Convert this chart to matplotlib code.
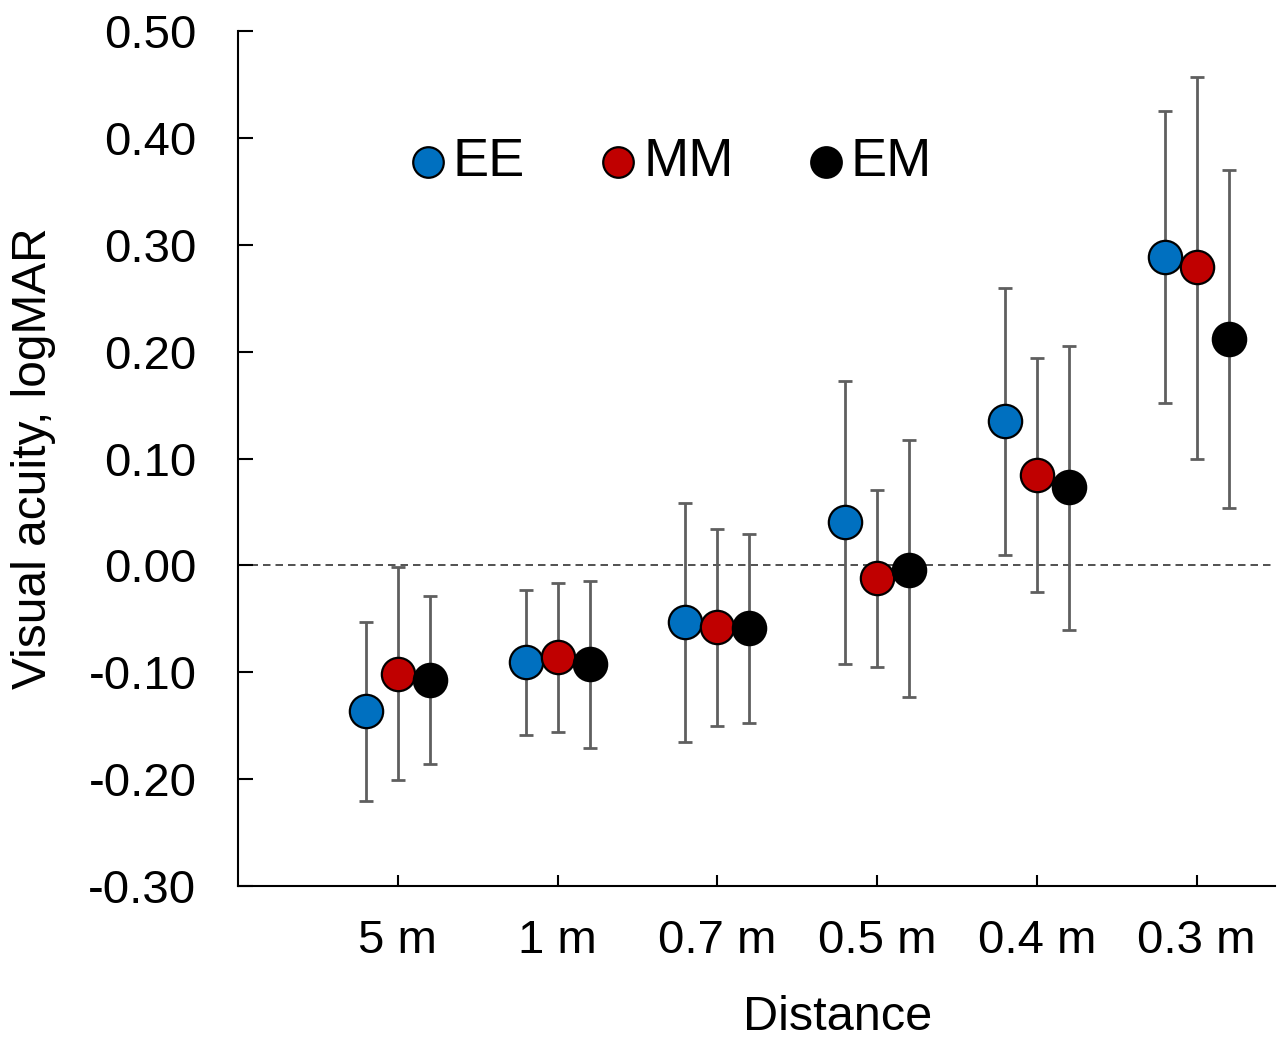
import matplotlib.pyplot as plt
import numpy as np

plt.rcParams['font.family'] = ['Liberation Sans', 'DejaVu Sans']

distances = ["5 m", "1 m", "0.7 m", "0.5 m", "0.4 m", "0.3 m"]

ee_mean = [-0.136, -0.090, -0.053, 0.041, 0.135, 0.289]
ee_low = [-0.220, -0.159, -0.165, -0.092, 0.010, 0.152]
ee_high = [-0.053, -0.023, 0.058, 0.173, 0.260, 0.425]

mm_mean = [-0.102, -0.086, -0.058, -0.012, 0.085, 0.279]
mm_low = [-0.201, -0.156, -0.150, -0.095, -0.025, 0.100]
mm_high = [-0.001, -0.016, 0.034, 0.071, 0.194, 0.457]

em_mean = [-0.107, -0.092, -0.059, -0.004, 0.073, 0.212]
em_low = [-0.186, -0.171, -0.147, -0.123, -0.060, 0.054]
em_high = [-0.029, -0.015, 0.029, 0.117, 0.205, 0.370]

series = [
    ("EE", ee_mean, ee_low, ee_high, "#0070C0", -0.2),
    ("MM", mm_mean, mm_low, mm_high, "#C00000", 0.0),
    ("EM", em_mean, em_low, em_high, "#000000", 0.2),
]

fig = plt.figure(figsize=(12.82, 10.38), dpi=100)
ax = fig.add_axes([0.1857, 0.1464, 0.8088, 0.8236])

x = np.arange(1, len(distances) + 1)
ax.axhline(0.0, color="#333333", lw=1.2, ls=(0, (4.5, 3)), zorder=1)

for name, mean, low, high, color, off in series:
    mean = np.array(mean)
    yerr = [mean - np.array(low), np.array(high) - mean]
    ax.errorbar(x + off, mean, yerr=yerr, fmt="none", ecolor="#5f5f5f",
                elinewidth=2, capsize=5, capthick=2, zorder=2)
    ax.plot(x + off, mean, "o", ms=24, mfc=color, mec="black", mew=1.6,
            zorder=3)

# legend row drawn as markers + text
leg_x = [1.19, 2.38, 3.68]
for (name, *_rest), lx in zip(series, leg_x):
    color = _rest[3]
    ax.plot(lx, 0.378, "o", ms=22, mfc=color, mec="black", mew=1.6,
            clip_on=False)
    ax.text(lx + 0.155, 0.378, name, fontsize=39, va="center", ha="left")

ax.set_xlim(0, 6.49)
ax.set_ylim(-0.30, 0.50)
ax.set_xticks(x)
ax.set_xticklabels(distances)
ax.set_yticks(np.arange(-0.30, 0.501, 0.10))
ax.set_yticklabels([f"{v:.2f}" for v in np.arange(-0.30, 0.501, 0.10)])
ax.tick_params(axis="both", labelsize=34, direction="in", width=1.5)
ax.tick_params(axis="y", length=11, pad=30)
ax.tick_params(axis="x", length=8, pad=24)

for side in ["top", "right"]:
    ax.spines[side].set_visible(False)
for side in ["left", "bottom"]:
    ax.spines[side].set_linewidth(1.5)

ax.set_xlabel("Distance", fontsize=35)
ax.set_ylabel("Visual acuity, logMAR", fontsize=34.5)
ax.xaxis.set_label_coords(0.578, -0.128)
ax.yaxis.set_label_coords(-0.176, 0.5)

fig.savefig("out.png", dpi=100)
